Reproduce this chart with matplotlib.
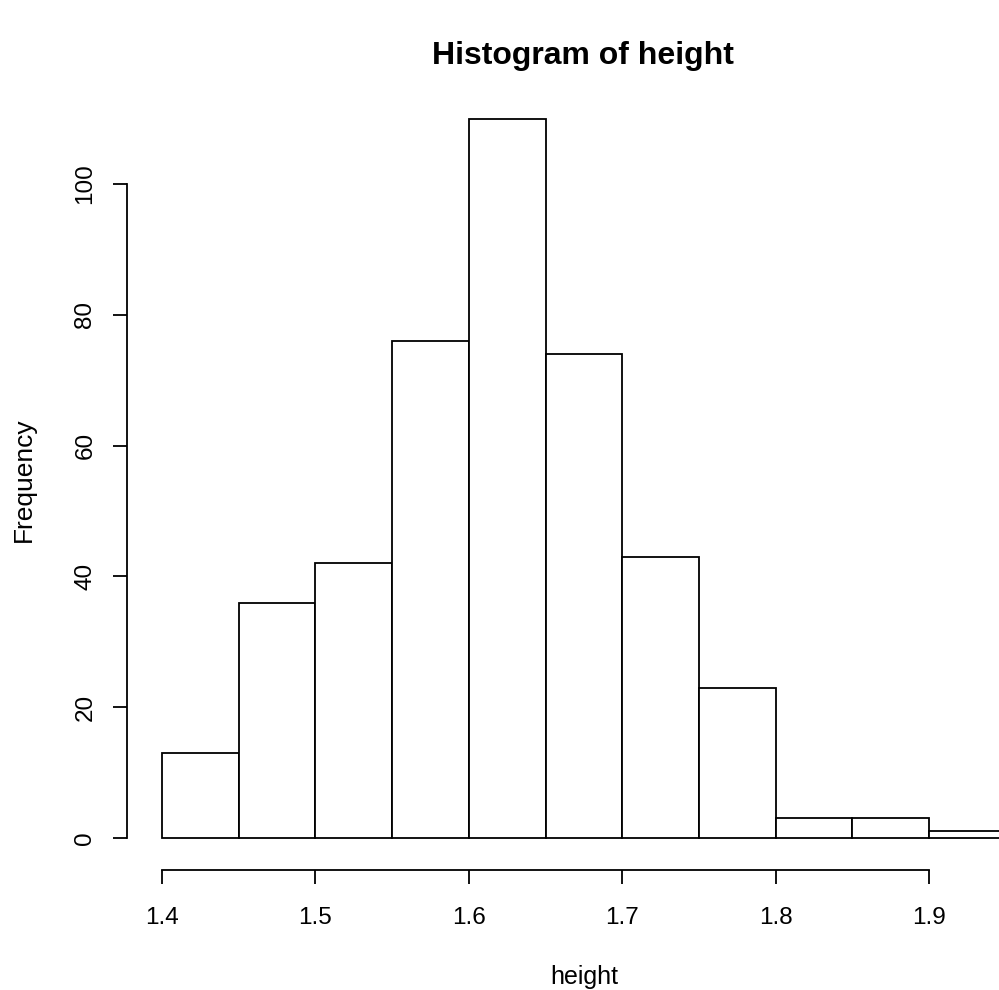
import matplotlib
matplotlib.use("Agg")
import matplotlib.pyplot as plt
import numpy as np

bin_edges = [1.40, 1.45, 1.50, 1.55, 1.60, 1.65, 1.70, 1.75, 1.80, 1.85, 1.90, 1.95]
counts = [13, 36, 42, 76, 110, 74, 43, 23, 3, 3, 1]
x_ticks = [1.4, 1.5, 1.6, 1.7, 1.8, 1.9]
x_ticklabels = ["1.4", "1.5", "1.6", "1.7", "1.8", "1.9"]
y_ticks = [0, 20, 40, 60, 80, 100]
y_ticklabels = ["0", "20", "40", "60", "80", "100"]

plt.rcParams['font.family'] = ['Liberation Sans', 'DejaVu Sans']

W, H = 999, 990
fig = plt.figure(figsize=(W / 100, H / 100), dpi=100)
left_px, right_px, top_px, bottom_px = 127, 999, 100, 870
ax = fig.add_axes([left_px / W, (H - bottom_px) / H, (right_px - left_px) / W, (bottom_px - top_px) / H])

# data-to-pixel mapping from reference
x_per_px = 0.5 / (929 - 162)
y_per_px = 100 / (838 - 184)
ax.set_xlim(1.4 - (162 - left_px) * x_per_px, 1.4 + (right_px - 162) * x_per_px)
ax.set_ylim(-(bottom_px - 838) * y_per_px, 100 + (184 - top_px) * y_per_px)

widths = np.diff(bin_edges)
ax.bar(bin_edges[:-1], counts, width=widths, align='edge', color='white',
       edgecolor='black', linewidth=1.3)

for s in ['top', 'right']:
    ax.spines[s].set_visible(False)
ax.spines['left'].set_bounds(0, 100)
ax.spines['bottom'].set_bounds(1.4, 1.9)
ax.spines['left'].set_linewidth(1.3)
ax.spines['bottom'].set_linewidth(1.3)

ax.set_xticks(x_ticks)
ax.set_xticklabels(x_ticklabels)
ax.set_yticks(y_ticks)
ax.set_yticklabels(y_ticklabels, rotation=90, va='center')
ax.tick_params(axis='both', length=10, width=1.3, labelsize=17.5, color='black')
ax.tick_params(axis='x', pad=17)
ax.tick_params(axis='y', pad=12)

fig.text(583 / W, 1 - 56 / H, "Histogram of height", ha='center', va='center',
         fontsize=23, fontweight='bold')
fig.text(584 / W, 1 - 977 / H, "height", ha='center', va='center', fontsize=18)
fig.text(24 / W, 1 - 480 / H, "Frequency", ha='center', va='center', fontsize=19,
         rotation=90)

fig.savefig("out.png", dpi=100)
